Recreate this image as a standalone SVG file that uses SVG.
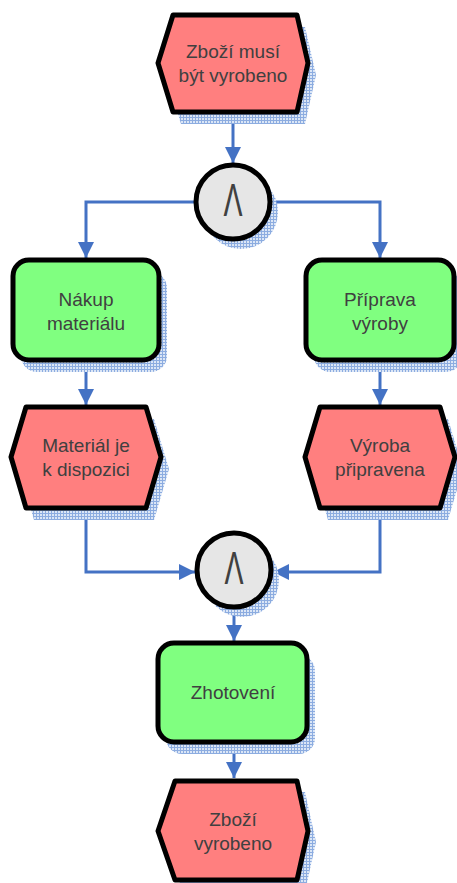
<svg xmlns="http://www.w3.org/2000/svg" width="457" height="883" viewBox="0 0 457 883">
  <defs>
    <pattern id="hatch" width="3" height="3" patternUnits="userSpaceOnUse">
      <rect width="3" height="3" fill="#dbe6f6"/>
      <path d="M0,0.5 H3 M0.5,0 V3" stroke="#8cace0" stroke-width="1"/>
    </pattern>
    <marker id="arrow" markerUnits="userSpaceOnUse" markerWidth="18" markerHeight="18" refX="16" refY="8" orient="auto">
      <path d="M0,0 L16,8 L0,16 z" fill="#4472c4"/>
    </marker>
  </defs>
  <style>
    .shadow { fill: url(#hatch); }
    .event { fill: #ff7f7f; stroke: #000; stroke-width: 5; stroke-linejoin: round; }
    .func { fill: #80ff80; stroke: #000; stroke-width: 5; }
    .gate { fill: #e6e6e6; stroke: #000; stroke-width: 5; }
    .lbl { font-family: "Liberation Sans", Arial, sans-serif; font-size: 19px; fill: #404040; text-anchor: middle; }
    .op { font-family: "Liberation Sans", Arial, sans-serif; font-size: 46px; fill: #404040; text-anchor: middle; }
    .conn { fill: none; stroke: #4472c4; stroke-width: 3; marker-end: url(#arrow); }
  </style>

  <!-- connectors -->
  <g id="connectors">
    <path class="conn" d="M233,114 V163"/>
    <path class="conn" d="M196,202 H86 V258"/>
    <path class="conn" d="M270,202 H380 V258"/>
    <path class="conn" d="M86,362 V405"/>
    <path class="conn" d="M380,362 V405"/>
    <path class="conn" d="M86,510 V572 H195"/>
    <path class="conn" d="M380,510 V572 H273"/>
    <path class="conn" d="M234,608 V641"/>
    <path class="conn" d="M234,744 V778"/>
  </g>

  <g id="e-start">
    <polygon class="shadow" points="181,27 305,27 316,75 305,124 181,124 166,75"/>
    <polygon class="event" points="173,15 297,15 308,63 297,112 173,112 158,63"/>
    <text class="lbl" x="233" y="58">Zboží musí</text>
    <text class="lbl" x="233" y="82">být vyrobeno</text>
  </g>

  <g id="and-split">
    <circle class="shadow" cx="241" cy="212" r="37"/>
    <circle class="gate" cx="233" cy="202" r="37"/>
    <text class="op" x="233" y="216" transform="translate(233 0) scale(0.62 1) translate(-233 0)">Λ</text>
  </g>

  <g id="f-nakup">
    <rect class="shadow" x="21" y="272" width="146" height="100" rx="16"/>
    <rect class="func" x="13" y="260" width="146" height="100" rx="16"/>
    <text class="lbl" x="86" y="306">Nákup</text>
    <text class="lbl" x="86" y="330">materiálu</text>
  </g>

  <g id="f-priprava">
    <rect class="shadow" x="314" y="272" width="148" height="100" rx="16"/>
    <rect class="func" x="306" y="260" width="148" height="100" rx="16"/>
    <text class="lbl" x="380" y="306">Příprava</text>
    <text class="lbl" x="380" y="330">výroby</text>
  </g>

  <g id="e-material">
    <polygon class="shadow" points="34,419 154,419 169,469 154,520 34,520 19,469"/>
    <polygon class="event" points="26,407 146,407 161,457 146,508 26,508 11,457"/>
    <text class="lbl" x="86" y="452">Materiál je</text>
    <text class="lbl" x="86" y="476">k dispozici</text>
  </g>

  <g id="e-vyroba">
    <polygon class="shadow" points="328,419 448,419 463,469 448,520 328,520 313,469"/>
    <polygon class="event" points="320,407 440,407 455,457 440,508 320,508 305,457"/>
    <text class="lbl" x="380" y="452">Výroba</text>
    <text class="lbl" x="380" y="476">připravena</text>
  </g>

  <g id="and-join">
    <circle class="shadow" cx="242" cy="580" r="37"/>
    <circle class="gate" cx="234" cy="570" r="37"/>
    <text class="op" x="234" y="584" transform="translate(234 0) scale(0.62 1) translate(-234 0)">Λ</text>
  </g>

  <g id="f-zhotoveni">
    <rect class="shadow" x="166" y="655" width="149" height="99" rx="16"/>
    <rect class="func" x="158" y="643" width="149" height="99" rx="16"/>
    <text class="lbl" x="233" y="699">Zhotovení</text>
  </g>

  <g id="e-end">
    <polygon class="shadow" points="183,792 305,792 316,842 305,892 183,892 166,842"/>
    <polygon class="event" points="175,781 297,781 308,831 297,880 175,880 158,831"/>
    <text class="lbl" x="233" y="826">Zboží</text>
    <text class="lbl" x="233" y="850">vyrobeno</text>
  </g>
</svg>
